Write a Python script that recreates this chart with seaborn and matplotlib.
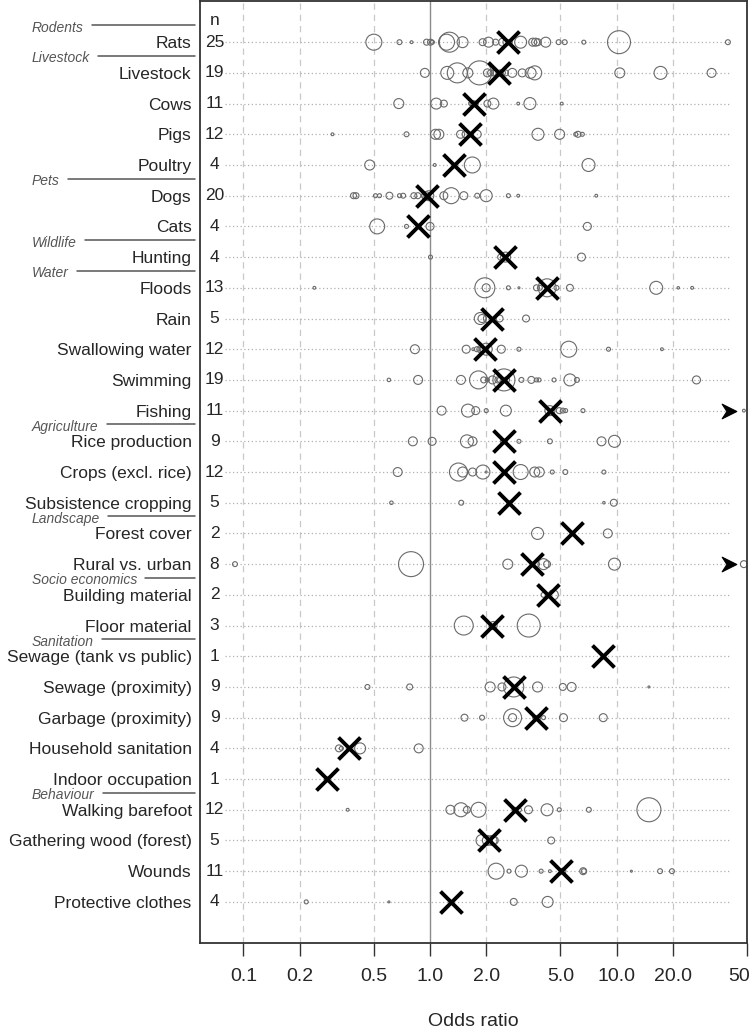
import numpy as np
import pandas as pd
import matplotlib.pyplot as plt
import seaborn as sns
from matplotlib.path import Path
from matplotlib.ticker import NullLocator
from matplotlib.transforms import blended_transform_factory

# ---- data ----
factors = ["Rats", "Livestock", "Cows", "Pigs", "Poultry", "Dogs", "Cats", "Hunting",
           "Floods", "Rain", "Swallowing water", "Swimming", "Fishing", "Rice production",
           "Crops (excl. rice)", "Subsistence cropping", "Forest cover", "Rural vs. urban",
           "Building material", "Floor material", "Sewage (tank vs public)",
           "Sewage (proximity)", "Garbage (proximity)", "Household sanitation",
           "Indoor occupation", "Walking barefoot", "Gathering wood (forest)", "Wounds",
           "Protective clothes"]
n_studies = [25, 19, 11, 12, 4, 20, 4, 4, 13, 5, 12, 19, 11, 9, 12, 5, 2, 8, 2, 3, 1,
             9, 9, 4, 1, 12, 5, 11, 4]
pooled_or = [2.61, 2.33, 1.72, 1.635, 1.34, 0.966, 0.86, 2.51, 4.24, 2.15, 1.97, 2.49,
             4.39, 2.49, 2.49, 2.65, 5.79, 3.53, 4.27, 2.16, 8.48, 2.81, 3.69, 0.369,
             0.279, 2.84, 2.07, 5.04, 1.30]

groups = ["Rodents", "Livestock", "Pets", "Wildlife", "Water", "Agriculture", "Landscape",
          "Socio economics", "Sanitation", "Behaviour"]
group_first = ["Rats", "Livestock", "Dogs", "Hunting", "Floods", "Rice production",
               "Forest cover", "Building material", "Sewage (tank vs public)",
               "Walking barefoot"]

# study odds ratios and relative weights, one pair per exposure
or_rats = [0.50, 0.686, 0.796, 0.958, 1.006, 1.03, 1.226, 1.27, 1.494, 1.913, 2.06, 2.247,
           3.06, 3.55, 3.68, 3.78, 4.17, 4.89, 5.27, 6.67, 10.3, 39.5, 2.55, 2.68, 2.45]
w_rats = [64, 6, 2, 9, 9, 4, 64, 100, 30, 12, 25, 9, 36, 16, 16, 12, 25, 6, 6, 4, 132, 6,
          9, 6, 16]
or_livestock = [0.938, 1.237, 1.40, 1.595, 1.843, 2.03, 2.11, 2.25, 2.54, 2.76, 3.12, 3.46,
                3.64, 10.4, 17.2, 32.3, 2.18, 2.38, 2.46]
w_livestock = [20, 42, 100, 25, 144, 16, 9, 9, 9, 20, 16, 30, 49, 25, 42, 20, 9, 9, 6]
or_cows = [0.680, 1.08, 1.186, 2.03, 2.185, 2.97, 3.43, 5.08, 1.70, 1.76, 1.65]
w_cows = [25, 30, 12, 12, 30, 2, 36, 2, 9, 6, 4]
or_pigs = [0.30, 0.748, 1.07, 1.115, 1.458, 1.55, 1.79, 3.79, 4.95, 6.04, 6.21, 6.55]
w_pigs = [2, 6, 25, 25, 16, 12, 16, 36, 25, 4, 9, 4]
or_poultry = [0.475, 1.06, 1.685, 7.07]
w_poultry = [25, 2, 64, 42]
or_dogs = [0.389, 0.401, 0.510, 0.536, 0.606, 0.686, 0.718, 0.819, 0.860, 0.934, 0.985,
           1.186, 1.299, 1.518, 1.79, 2.0, 2.63, 2.97, 7.78, 0.95]
w_dogs = [9, 9, 4, 4, 12, 4, 6, 9, 9, 9, 25, 16, 64, 16, 6, 36, 4, 2, 2, 16]
or_cats = [0.521, 0.748, 1.0, 6.97]
w_cats = [56, 4, 16, 16]
or_hunting = [1.006, 2.54, 2.39, 6.48]
w_hunting = [4, 25, 9, 16]
or_floods = [0.240, 1.967, 2.0, 2.63, 2.996, 3.72, 3.88, 4.24, 4.76, 5.62, 16.3, 21.4, 25.4]
w_floods = [2, 100, 16, 4, 1, 9, 6, 81, 6, 12, 42, 1.5, 2]
or_rain = [1.86, 1.90, 2.03, 2.36, 3.27]
w_rain = [36, 16, 16, 12, 12]
or_swallow = [0.830, 1.563, 1.705, 1.78, 1.86, 1.90, 2.0, 2.41, 2.996, 5.54, 9.05, 17.5]
w_swallow = [20, 16, 2, 6, 12, 9, 36, 16, 4, 64, 4, 2]
or_swim = [0.602, 0.863, 1.465, 1.82, 1.94, 2.03, 2.16, 2.31, 2.36, 2.49, 2.57, 3.09, 3.49,
           3.72, 3.84, 4.62, 5.62, 6.13, 26.8]
w_swim = [3, 20, 20, 81, 9, 4, 16, 9, 6, 121, 9, 6, 12, 4, 4, 4, 36, 6, 16]
or_fishing = [1.154, 1.597, 1.757, 2.0, 2.55, 4.39, 4.93, 5.15, 5.33, 6.6, 48.1]
w_fishing = [20, 42, 16, 4, 30, 25, 9, 6, 4, 4, 2]
or_rice = [0.809, 1.026, 1.577, 1.69, 2.46, 2.996, 4.39, 8.3, 9.74]
w_rice = [20, 16, 42, 20, 6, 4, 6, 20, 36]
or_crops = [0.671, 1.42, 1.496, 1.69, 1.92, 2.0, 3.06, 3.64, 3.85, 4.52, 5.31, 8.55]
w_crops = [20, 81, 25, 16, 49, 1, 56, 25, 25, 4, 6, 4]
or_subsist = [0.621, 1.47, 2.65, 8.55, 9.66]
w_subsist = [3, 6, 4, 1.5, 12]
or_forest = [3.77, 8.97]
w_forest = [36, 20]
or_rural = [0.0901, 0.791, 2.61, 3.72, 4.06, 4.24, 9.74, 48.1]
w_rural = [6, 156, 25, 9, 30, 12, 36, 12]
or_building = [4.06, 4.58]
w_building = [6, 25]
or_floor = [1.516, 2.18, 3.38]
w_floor = [90, 16, 132]
or_sew_tank = [8.48]
w_sew_tank = [2]
or_sew_prox = [0.462, 0.778, 2.10, 2.43, 2.81, 3.77, 5.15, 5.74, 14.9]
w_sew_prox = [6, 9, 25, 16, 100, 25, 12, 20, 1]
or_garbage = [1.53, 1.90, 2.77, 2.77, 3.64, 3.80, 4.06, 5.19, 8.48]
w_garbage = [12, 6, 81, 16, 4, 6, 4, 16, 16]
or_household = [0.325, 0.335, 0.422, 0.87]
w_household = [12, 4, 30, 20]
or_indoor = [0.279]
w_indoor = [4]
or_barefoot = [0.362, 1.286, 1.465, 1.577, 1.82, 2.84, 2.996, 3.37, 4.24, 4.93, 7.1, 14.9]
w_barefoot = [2, 20, 49, 12, 56, 6, 6, 16, 36, 4, 6, 144]
or_wood = [1.90, 2.03, 2.15, 2.21, 4.46]
w_wood = [36, 25, 25, 16, 12]
or_wounds = [2.26, 2.65, 3.09, 3.94, 4.39, 5.15, 6.62, 6.67, 12.0, 17.1, 19.8]
w_wounds = [64, 4, 36, 4, 2, 9, 12, 6, 1, 6, 6]
or_protect = [0.217, 0.602, 2.81, 4.27]
w_protect = [4, 1, 12, 30]

study_or = [or_rats, or_livestock, or_cows, or_pigs, or_poultry, or_dogs, or_cats,
            or_hunting, or_floods, or_rain, or_swallow, or_swim, or_fishing, or_rice,
            or_crops, or_subsist, or_forest, or_rural, or_building, or_floor, or_sew_tank,
            or_sew_prox, or_garbage, or_household, or_indoor, or_barefoot, or_wood,
            or_wounds, or_protect]
study_w = [w_rats, w_livestock, w_cows, w_pigs, w_poultry, w_dogs, w_cats, w_hunting,
           w_floods, w_rain, w_swallow, w_swim, w_fishing, w_rice, w_crops, w_subsist,
           w_forest, w_rural, w_building, w_floor, w_sew_tank, w_sew_prox, w_garbage,
           w_household, w_indoor, w_barefoot, w_wood, w_wounds, w_protect]

rows = []
for i, (o, w) in enumerate(zip(study_or, study_w)):
    for oo, ww in zip(o, w):
        rows.append((factors[i], i, oo, ww))
df = pd.DataFrame(rows, columns=["factor", "pos", "odds", "weight"])
df_pool = pd.DataFrame({"factor": factors, "pos": range(len(factors)), "odds": pooled_or})
# studies beyond the drawn range get an arrow
df_arrow = df.groupby("pos")["odds"].max().reset_index()
df_arrow = df_arrow[df_arrow.odds > 40].copy()
df_arrow["odds"] = 40

# ---- plot ----
sns.set_style("white")
plt.rcParams['font.family'] = ['Liberation Sans', 'DejaVu Sans']

fig = plt.figure(figsize=(7.51, 10.33), dpi=100)
ax = fig.add_axes([0.2663, 0.0871, 0.7284, 0.9119])
ax.set_xscale('log')

for v in [0.1, 0.2, 0.5, 2, 5, 10, 20]:
    ax.axvline(v, color='#c8c8c8', ls=(0, (5, 4)), lw=0.9, zorder=0)
ax.axvline(1, color='#8a8a8a', lw=1.0, zorder=1)
ax.hlines(range(len(factors)), 0.08, 40, colors='#b0b0b0', linestyles=(0, (1, 2)),
          lw=0.9, zorder=0)

wmin, wmax = df.weight.min(), df.weight.max()
sns.scatterplot(data=df, x="odds", y="pos", size="weight", sizes=(2.07*wmin, 2.07*wmax),
                size_norm=(wmin, wmax), facecolor='none', edgecolor='#6a6a6a',
                linewidth=0.8, legend=False, ax=ax, zorder=2)
sns.scatterplot(data=df_pool, x="odds", y="pos", marker='x', s=250, color='black',
                linewidth=2.8, legend=False, ax=ax, zorder=3)
chevron = Path([(-1, -1), (1, 0), (-1, 1), (-0.35, 0), (-1, -1)],
               [Path.MOVETO, Path.LINETO, Path.LINETO, Path.LINETO, Path.CLOSEPOLY])
sns.scatterplot(data=df_arrow, x="odds", y="pos", marker=chevron, s=110, color='black',
                edgecolor='black', legend=False, ax=ax, zorder=3)

ax.set_xlim(0.0585, 50)
ax.set_ylim(len(factors) - 1 + 1.34, -1.34)

ax.set_xticks([0.1, 0.2, 0.5, 1, 2, 5, 10, 20, 50])
ax.set_xticklabels(["0.1", "0.2", "0.5", "1.0", "2.0", "5.0", "10.0", "20.0", "50.0"])
ax.xaxis.set_minor_locator(NullLocator())
ax.tick_params(axis='x', length=9, width=1, direction='out', pad=9, labelsize=14,
               color='#333333', bottom=True)
ax.set_yticks(range(len(factors)))
ax.set_yticklabels(factors, fontsize=12.5)
ax.tick_params(axis='y', length=0, pad=6)
ax.set_xlabel("Odds ratio", fontsize=14, labelpad=20)
ax.set_ylabel("")

for s in ax.spines.values():
    s.set_color('#333333')
    s.set_linewidth(1.3)

# n column
ax.text(0.07, -0.72, "n", ha='center', va='center', fontsize=12.5)
for i, n in enumerate(n_studies):
    ax.text(0.07, i, str(n), ha='center', va='center', fontsize=12.5)

# group headings with rule lines
trans = blended_transform_factory(fig.transFigure, ax.transData)
fig.canvas.draw()
renderer = fig.canvas.get_renderer()
for g, first in zip(groups, group_first):
    p = factors.index(first)
    t = fig.text(32 / 751, p - 0.47, g, transform=trans, ha='left', va='center',
                 fontsize=10, style='italic', color='#555555')
    bb = t.get_window_extent(renderer)
    x0 = bb.x1 / fig.bbox.width + 8 / 751
    fig.add_artist(plt.Line2D([x0, 195 / 751], [p - 0.56, p - 0.56], transform=trans,
                              color='#555555', lw=1.1))

fig.savefig("out.png", dpi=100)
